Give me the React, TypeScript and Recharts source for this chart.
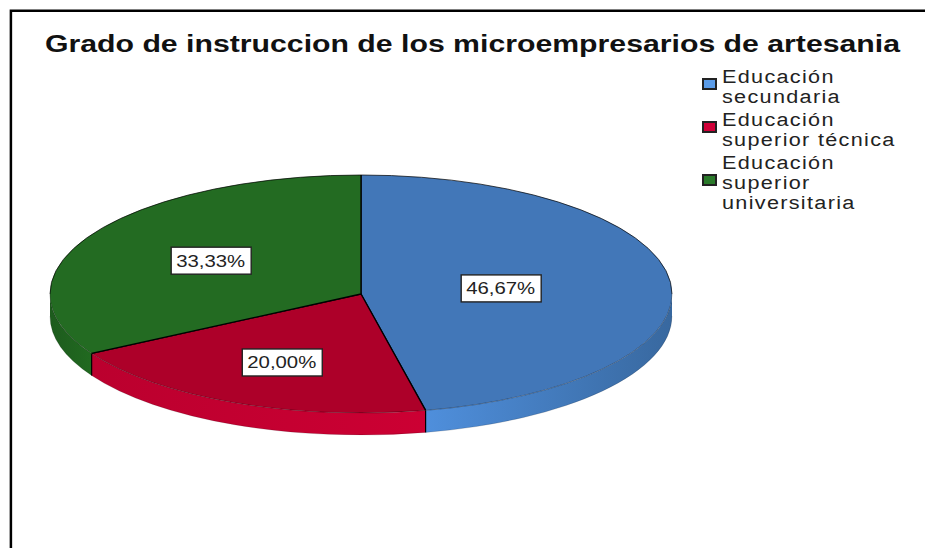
import React from "react";
import { PieChart, Pie, Cell, Legend } from "recharts";

const categories = ["Educación secundaria", "Educación superior técnica", "Educación superior universitaria"];
const percents = [46.67, 20.0, 33.33];

// Colours of the slices
const TOP_COLORS = ["#4277b8", "#ad0029", "#236b22"];
const LEGEND_COLORS = ["#5b9ce8", "#d00038", "#2a7a2a"];
const WALL_LEFT = ["#4f8fdc", "#bb002e", "#1d5b1d"];
const WALL_RIGHT = ["#38689f", "#cc0033", "#216a20"];
// how far from the centre each label sits
const LABEL_RADIUS = [0.45, 0.63, 0.56];

const CX = 361;
const CY = 294;
const R = 311;
const SQUASH = 119 / 311;
const DEPTH = 22;

const data = categories.map((name, i) => ({ name, value: percents[i] }));

const pt = (angle: number, dy = 0) => {
  const a = (angle * Math.PI) / 180;
  return [CX + R * Math.cos(a), CY - R * SQUASH * Math.sin(a) + dy];
};

const arc = (from: number, to: number) => {
  const [ax, ay] = pt(from);
  const [bx, by] = pt(to);
  const large = from - to > 180 ? 1 : 0;
  return `M${ax},${ay} A${R},${R * SQUASH} 0 ${large} 1 ${bx},${by}`;
};

// 3D slice: the flat sector squashed to an ellipse plus its side wall
const Slice = (props: any) => {
  const { startAngle, endAngle } = props;
  const i = categories.indexOf(props.name ?? props.payload?.name);
  const ry = R * SQUASH;
  const [x0, y0] = pt(startAngle);
  const [x1, y1] = pt(endAngle);
  const large = startAngle - endAngle > 180 ? 1 : 0;
  const from = Math.min(startAngle, 0);
  const to = Math.max(endAngle, -180);
  const [wx0, wy0] = pt(from);
  const [wx1, wy1] = pt(to);
  const left = Math.min(wx0, wx1);
  const right = Math.max(wx0, wx1);
  return (
    <g>
      <defs>
        <linearGradient id={`wall-${i}`} gradientUnits="userSpaceOnUse" x1={left} x2={right} y1={0} y2={0}>
          <stop offset="0%" stopColor={WALL_LEFT[i]} />
          <stop offset="100%" stopColor={WALL_RIGHT[i]} />
        </linearGradient>
      </defs>
      <path
        d={`M${wx0},${wy0} A${R},${ry} 0 0 1 ${wx1},${wy1} L${wx1},${wy1 + DEPTH} A${R},${ry} 0 0 0 ${wx0},${wy0 + DEPTH} Z`}
        fill={`url(#wall-${i})`}
        stroke="none"
      />
      <path d={`M${wx0},${wy0 + DEPTH} A${R},${ry} 0 0 1 ${wx1},${wy1 + DEPTH}`} fill="none" stroke="#000" strokeOpacity={0.15} />
      {i > 0 && <line x1={x0} y1={y0} x2={x0} y2={y0 + DEPTH} stroke="#000" strokeWidth={1.2} />}
      <path d={`M${CX},${CY} L${x0},${y0} A${R},${ry} 0 ${large} 1 ${x1},${y1} Z`} fill={TOP_COLORS[i]} stroke="none" />
      {startAngle > 0 && <path d={arc(startAngle, Math.max(endAngle, 0))} fill="none" stroke="#000" strokeOpacity={0.7} />}
      {endAngle < -180 && <path d={arc(-180, endAngle)} fill="none" stroke="#000" strokeOpacity={0.7} />}
      <path d={arc(from, to)} fill="none" stroke="#000" strokeOpacity={0.3} />
      <path d={`M${x0},${y0} L${CX},${CY} L${x1},${y1}`} fill="none" stroke="#000" strokeWidth={1.3} />
    </g>
  );
};

const renderLabel = (props: any) => {
  const i = props.index;
  const a = (props.midAngle * Math.PI) / 180;
  const x = CX + R * LABEL_RADIUS[i] * Math.cos(a);
  const y = CY - R * SQUASH * LABEL_RADIUS[i] * Math.sin(a);
  return (
    <g key={i}>
      <rect x={x - 39} y={y - 13.5} width={80} height={27} fill="#fff" stroke="#222" strokeWidth={1.4} />
      <text
        x={x - 34}
        y={y + 6}
        fontFamily="Liberation Sans"
        fontSize={17}
        textLength={69}
        lengthAdjust="spacingAndGlyphs"
        fill="#222"
      >
        {percents[i].toFixed(2).replace(".", ",")}%
      </text>
    </g>
  );
};

const renderLegend = (props: any) => (
  <div style={{ fontFamily: "Liberation Sans", fontSize: 18, lineHeight: "20px", letterSpacing: 1.1, color: "#222" }}>
    {(props.payload || []).map((item: any, i: number) => (
      <div key={i} style={{ display: "flex", alignItems: "center", marginBottom: 3 }}>
        <span
          style={{
            width: 11,
            height: 8,
            flex: "none",
            marginRight: 5,
            marginTop: -6,
            background: LEGEND_COLORS[i],
            border: "2px solid #222",
          }}
        />
        <span style={{ width: 150, transform: "scaleX(1.2)", transformOrigin: "left" }}>{item.value}</span>
      </div>
    ))}
  </div>
);

export default function App() {
  return (
    <div style={{ position: "absolute", left: 0, top: 0, width: 925, height: 548, background: "#fff", overflow: "hidden" }}>
      <PieChart width={925} height={548} margin={{ top: 0, right: 0, bottom: 0, left: 0 }}>
        <path d="M10.9,548 L10.9,10.7 L925,10.7" fill="none" stroke="#000" strokeWidth={2.5} />
        <text
          x={45}
          y={52}
          fontFamily="Liberation Sans"
          fontWeight="bold"
          fontSize={23.5}
          textLength={855}
          lengthAdjust="spacingAndGlyphs"
          fill="#111"
        >
          Grado de instruccion de los microempresarios de artesania
        </text>
        <Pie
          data={data}
          dataKey="value"
          nameKey="name"
          cx={CX}
          cy={CY}
          outerRadius={R}
          startAngle={90}
          endAngle={-270}
          shape={Slice}
          label={renderLabel}
          labelLine={false}
          isAnimationActive={false}
        >
          {data.map((entry, i) => (
            <Cell key={entry.name} fill={LEGEND_COLORS[i]} />
          ))}
        </Pie>
        <Legend
          layout="vertical"
          content={renderLegend}
          wrapperStyle={{ position: "absolute", left: 702, top: 67, width: 210, right: "auto", bottom: "auto" }}
        />
      </PieChart>
    </div>
  );
}
